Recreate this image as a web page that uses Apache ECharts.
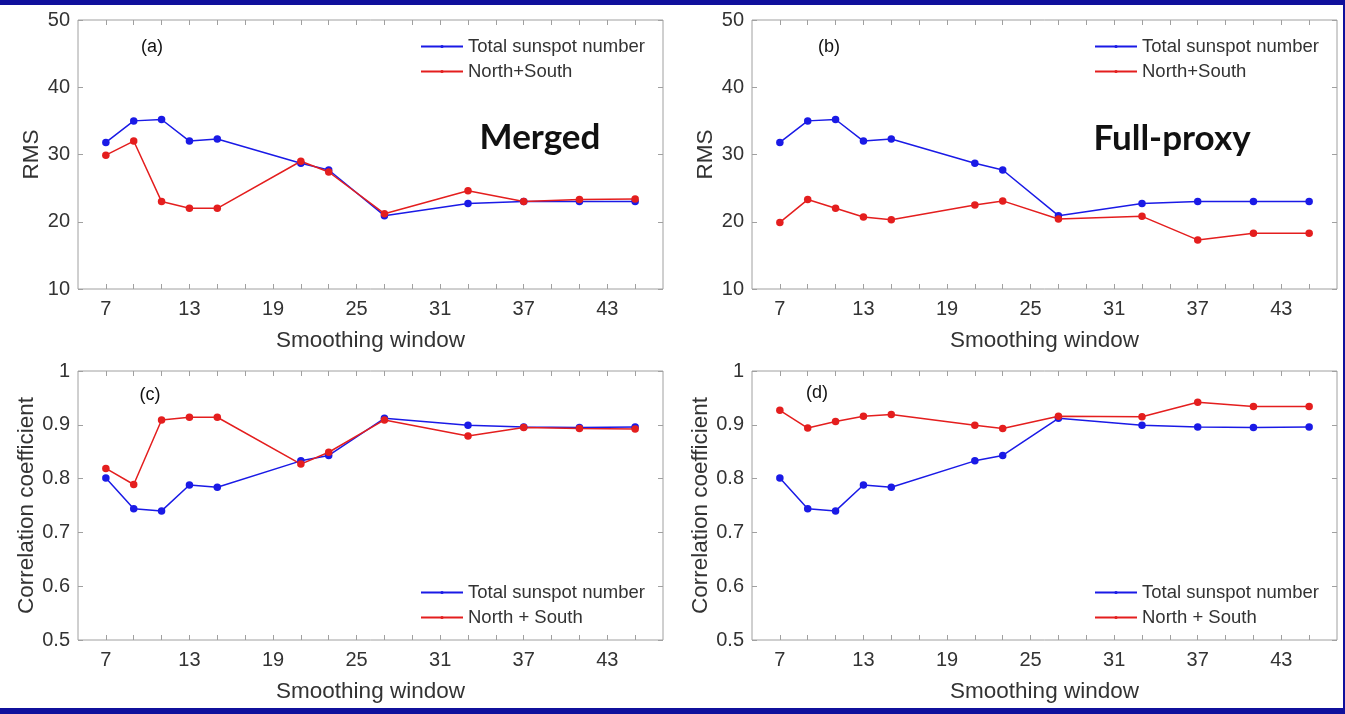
<!DOCTYPE html>
<html style="height: 100%">
<head>
    <meta charset="utf-8">
    <title>RMS and correlation vs smoothing window</title>
    <script type="text/javascript" src="https://cdn.jsdelivr.net/npm/echarts@6/dist/echarts.min.js"></script>
    <style>
        body { margin: 0; width: 1345px; height: 714px; position: relative; background: #fff; overflow: hidden; }
        #container { position: absolute; left: 0; top: 0; width: 1345px; height: 714px; }
        #frame { position: absolute; left: 0; top: 0; width: 1345px; height: 714px; box-sizing: border-box;
                 border-top: 5px solid #10109c; border-right: 2px solid #10109c; border-bottom: 6px solid #10109c;
                 pointer-events: none; }
    </style>
    <script type="application/javascript">
        // smoothing windows (x values)
        var windows = [7, 9, 11, 13, 15, 21, 23, 27, 33, 37, 41, 45];

        // RMS, panels (a) and (b)
        var rmsTotal = [31.8, 35.0, 35.2, 32.0, 32.3, 28.7, 27.7, 20.9, 22.7, 23.0, 23.0, 23.0];
        var rmsMergedNS = [29.9, 32.0, 23.0, 22.0, 22.0, 29.0, 27.4, 21.2, 24.6, 23.0, 23.3, 23.4];
        var rmsProxyNS = [19.9, 23.3, 22.0, 20.7, 20.3, 22.5, 23.1, 20.4, 20.8, 17.3, 18.3, 18.3];

        // correlation, panels (c) and (d)
        var corrTotal = [0.801, 0.744, 0.740, 0.788, 0.784, 0.833, 0.843, 0.912, 0.899, 0.896, 0.895, 0.896];
        var corrMergedNS = [0.819, 0.789, 0.909, 0.914, 0.914, 0.827, 0.849, 0.909, 0.879, 0.895, 0.893, 0.892];
        var corrProxyNS = [0.927, 0.894, 0.906, 0.916, 0.919, 0.899, 0.893, 0.916, 0.915, 0.942, 0.934, 0.934];

        // x axis ticks and labels
        var xLabels = [7, 13, 19, 25, 31, 37, 43];
        var xTicks = [7, 9, 11, 13, 15, 17, 19, 21, 23, 25, 27, 29, 31, 33, 35, 37, 39, 41, 43, 45];

        var FONT = 'Liberation Sans, Arial, sans-serif';
        var GRAY = '#a0a0a0';
        var TEXT = '#333333';
        var BLUE = '#1a1ae6';
        var RED = '#e41e1e';

        function pairs(vals) {
            var out = [];
            for (var i = 0; i < windows.length; i++) {
                out.push([windows[i], vals[i]]);
            }
            return out;
        }

        function xAxisPair(g) {
            var tick = {show: true, inside: true, length: 5, customValues: xTicks, lineStyle: {color: GRAY}};
            return [
                {
                    type: 'value', gridIndex: g, position: 'bottom', min: 5, max: 47,
                    name: 'Smoothing window', nameLocation: 'middle', nameGap: 40,
                    nameTextStyle: {fontFamily: FONT, fontSize: 22.5, color: TEXT},
                    axisLine: {show: false}, splitLine: {show: false},
                    axisTick: tick,
                    axisLabel: {customValues: xLabels, margin: 10, fontFamily: FONT, fontSize: 20, color: TEXT}
                },
                {
                    type: 'value', gridIndex: g, position: 'top', min: 5, max: 47,
                    axisLine: {show: false}, splitLine: {show: false},
                    axisTick: tick, axisLabel: {show: false}
                }
            ];
        }

        function yAxisPair(g, min, max, step, name, gap) {
            var tick = {show: true, inside: true, length: 5, lineStyle: {color: GRAY}};
            return [
                {
                    type: 'value', gridIndex: g, position: 'left', min: min, max: max, interval: step,
                    name: name, nameLocation: 'middle', nameGap: gap,
                    nameTextStyle: {fontFamily: FONT, fontSize: 22.5, color: TEXT},
                    axisLine: {show: false}, splitLine: {show: false},
                    axisTick: tick,
                    axisLabel: {margin: 8, fontFamily: FONT, fontSize: 20, color: TEXT}
                },
                {
                    type: 'value', gridIndex: g, position: 'right', min: min, max: max, interval: step,
                    axisLine: {show: false}, splitLine: {show: false},
                    axisTick: tick, axisLabel: {show: false}
                }
            ];
        }

        function lineSeries(name, g, vals, color) {
            return {
                name: name, type: 'line', xAxisIndex: g * 2, yAxisIndex: g * 2,
                data: pairs(vals), symbol: 'circle', symbolSize: 7.5, showSymbol: true,
                lineStyle: {color: color, width: 1.5}, itemStyle: {color: color},
                animation: false
            };
        }

        function legendAt(left, top, names) {
            return {
                data: names, left: left, top: top, orient: 'vertical',
                itemWidth: 42, itemHeight: 4, itemGap: 6, padding: 0,
                textStyle: {fontFamily: FONT, fontSize: 18.5, color: TEXT, lineHeight: 18}
            };
        }

        function panelText(x, y, txt, size, weight, family) {
            return {
                type: 'text', x: x, y: y, silent: true,
                style: {text: txt, fontFamily: family || FONT, fontSize: size, fontWeight: weight || 'normal',
                        fill: '#111', textAlign: 'center', textVerticalAlign: 'middle'}
            };
        }
    </script>
</head>

<body style="margin: 0">
<div id="container"></div>
<div id="frame"></div>

<script type="application/javascript">
    var dom = document.getElementById("container");
    var myChart = echarts.init(dom, null, {renderer: 'canvas'});

    var gridBox = {show: true, borderColor: GRAY, borderWidth: 1, backgroundColor: 'transparent'};
    var grids = [
        Object.assign({left: 78, top: 20, width: 585, height: 269}, gridBox),
        Object.assign({left: 752, top: 20, width: 585, height: 269}, gridBox),
        Object.assign({left: 78, top: 371, width: 585, height: 269}, gridBox),
        Object.assign({left: 752, top: 371, width: 585, height: 269}, gridBox)
    ];

    var xAxes = [].concat(xAxisPair(0), xAxisPair(1), xAxisPair(2), xAxisPair(3));
    var yAxes = [].concat(
        yAxisPair(0, 10, 50, 10, 'RMS', 35),
        yAxisPair(1, 10, 50, 10, 'RMS', 35),
        yAxisPair(2, 0.5, 1, 0.1, 'Correlation coefficient', 37),
        yAxisPair(3, 0.5, 1, 0.1, 'Correlation coefficient', 37)
    );

    var option = {
        backgroundColor: '#fff',
        animation: false,
        grid: grids,
        xAxis: xAxes,
        yAxis: yAxes,
        legend: [
            legendAt(420, 37, ['Total sunspot number', 'North+South']),
            legendAt(1094, 37, ['Total sunspot number', 'North+South']),
            legendAt(420, 583, ['Total sunspot number', 'North + South']),
            legendAt(1094, 583, ['Total sunspot number', 'North + South'])
        ],
        series: [
            lineSeries('Total sunspot number', 0, rmsTotal, BLUE),
            lineSeries('North+South', 0, rmsMergedNS, RED),
            lineSeries('Total sunspot number', 1, rmsTotal, BLUE),
            lineSeries('North+South', 1, rmsProxyNS, RED),
            lineSeries('Total sunspot number', 2, corrTotal, BLUE),
            lineSeries('North + South', 2, corrMergedNS, RED),
            lineSeries('Total sunspot number', 3, corrTotal, BLUE),
            lineSeries('North + South', 3, corrProxyNS, RED)
        ],
        graphic: [
            panelText(152, 47, '(a)', 18),
            panelText(829, 47, '(b)', 18),
            panelText(150, 395, '(c)', 18),
            panelText(817, 393, '(d)', 18),
            panelText(540, 138, 'Merged', 35, 'bold', 'Lato, Open Sans, sans-serif'),
            panelText(1172, 139, 'Full-proxy', 35, 'bold', 'Lato, Open Sans, sans-serif')
        ]
    };

    myChart.setOption(option, true);
</script>
</body>
</html>
